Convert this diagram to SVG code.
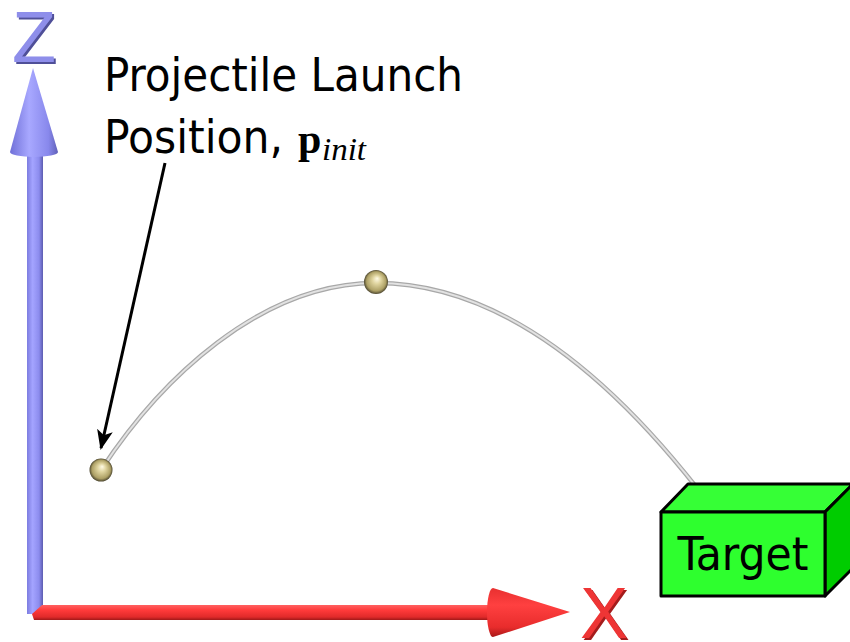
<svg xmlns="http://www.w3.org/2000/svg" width="850" height="642" viewBox="0 0 850 642">
  <defs>
    <style>
      .label { font-family: "DejaVu Sans Condensed", "DejaVu Sans", "Liberation Sans", sans-serif; font-stretch: condensed; fill: #000; }
      .axisletter { font-family: "Liberation Sans", Arial, sans-serif; font-size: 72px; }
      .box { stroke: #000; stroke-width: 3; stroke-linejoin: round; }
    </style>
    <!-- shading across the vertical (Z) axis -->
    <linearGradient id="zShaft" x1="0" y1="0" x2="1" y2="0">
      <stop offset="0" stop-color="#7c7ce0"/>
      <stop offset="0.35" stop-color="#a4a4ff"/>
      <stop offset="0.75" stop-color="#8c8cee"/>
      <stop offset="1" stop-color="#5c5cb0"/>
    </linearGradient>
    <linearGradient id="zCone" x1="0" y1="0" x2="1" y2="0">
      <stop offset="0" stop-color="#7070d8"/>
      <stop offset="0.4" stop-color="#a8a8ff"/>
      <stop offset="0.8" stop-color="#8888ec"/>
      <stop offset="1" stop-color="#6060b8"/>
    </linearGradient>
    <!-- shading across the horizontal (X) axis -->
    <linearGradient id="xShaft" x1="0" y1="0" x2="0" y2="1">
      <stop offset="0" stop-color="#ff6060"/>
      <stop offset="0.35" stop-color="#ff3a3a"/>
      <stop offset="0.8" stop-color="#e02a2a"/>
      <stop offset="1" stop-color="#a01818"/>
    </linearGradient>
    <linearGradient id="xCone" x1="0" y1="0" x2="0" y2="1">
      <stop offset="0" stop-color="#e83030"/>
      <stop offset="0.35" stop-color="#ff4040"/>
      <stop offset="0.8" stop-color="#e82c2c"/>
      <stop offset="1" stop-color="#a81818"/>
    </linearGradient>
    <!-- projectile sphere -->
    <radialGradient id="ball" cx="0.5" cy="0.5" r="0.5" fx="0.55" fy="0.35">
      <stop offset="0" stop-color="#fffbe6"/>
      <stop offset="0.35" stop-color="#e0d5a0"/>
      <stop offset="0.8" stop-color="#ada065"/>
      <stop offset="1" stop-color="#4e4830"/>
    </radialGradient>
    <!-- extruded look for the axis letters -->
    <filter id="zDepth" x="-20%" y="-20%" width="140%" height="140%">
      <feDropShadow dx="2" dy="2" stdDeviation="0.6" flood-color="#4f4f98"/>
    </filter>
    <filter id="xDepth" x="-20%" y="-20%" width="140%" height="140%">
      <feDropShadow dx="2" dy="2" stdDeviation="0.6" flood-color="#a41a1a"/>
    </filter>
    <marker id="leaderHead" viewBox="0 0 20 20" refX="18" refY="10" markerWidth="20" markerHeight="20" markerUnits="userSpaceOnUse" orient="auto">
      <path d="M0,2 L20,10 L0,18 L5,10 Z" fill="#000"/>
    </marker>
  </defs>

  <rect width="850" height="642" fill="#fff"/>

  <!-- Z axis -->
  <g id="z-axis">
    <path d="M27,150 H43 V606 L35,614 H27 Z" fill="url(#zShaft)"/>
    <path d="M33,68 L58,152 A24,5 0 0 1 10,152 Z" fill="url(#zCone)"/>
    <text class="axisletter" x="12" y="62" fill="#8e8eea" filter="url(#zDepth)">Z</text>
  </g>

  <!-- X axis -->
  <g id="x-axis">
    <path d="M42,605 H495 V620 H34 L32,614 Z" fill="url(#xShaft)"/>
    <path d="M570,612 L493,637 A6,24.5 0 0 1 493,588 Z" fill="url(#xCone)"/>
    <text class="axisletter" x="580" y="638" fill="#ee3434" filter="url(#xDepth)">X</text>
  </g>

  <!-- trajectory and leader -->
  <g id="connectors">
    <path d="M101,470 C160,380 260,283 376,283 Q535.5,283 697,488" fill="none" stroke="#a8a8a8" stroke-width="4.5" stroke-linecap="round"/>
    <path d="M101,470 C160,380 260,283 376,283 Q535.5,283 697,488" fill="none" stroke="#e2e2e2" stroke-width="2" stroke-linecap="round"/>
    <line x1="165" y1="163" x2="101" y2="448" stroke="#000" stroke-width="3" marker-end="url(#leaderHead)"/>
  </g>

  <!-- target block -->
  <g id="target">
    <polygon class="box" points="661,512 688,484 853,484 825,512" fill="#36ff36"/>
    <polygon class="box" points="825,512 853,484 853,568 825,596" fill="#00cc00"/>
    <rect class="box" x="661" y="512" width="164" height="84" fill="#2eff2e"/>
    <text class="label" x="743" y="570" font-size="46" text-anchor="middle" textLength="131" lengthAdjust="spacingAndGlyphs">Target</text>
  </g>

  <!-- projectile positions -->
  <g id="launch-ball">
    <circle cx="101" cy="470" r="11.5" fill="url(#ball)"/>
  </g>
  <g id="apex-ball">
    <circle cx="376" cy="282" r="12" fill="url(#ball)"/>
  </g>

  <!-- caption -->
  <g id="caption">
    <text class="label" x="104" y="91" font-size="47" textLength="359" lengthAdjust="spacingAndGlyphs">Projectile Launch</text>
    <text class="label" x="104" y="153" font-size="47" textLength="179" lengthAdjust="spacingAndGlyphs">Position,</text>
    <text x="298" y="153" font-family="'Liberation Serif', 'Times New Roman', serif" font-weight="bold" font-size="42">p</text>
    <text x="322" y="160" font-family="'Liberation Serif', 'Times New Roman', serif" font-style="italic" font-size="31" textLength="44" lengthAdjust="spacingAndGlyphs">init</text>
  </g>
</svg>
